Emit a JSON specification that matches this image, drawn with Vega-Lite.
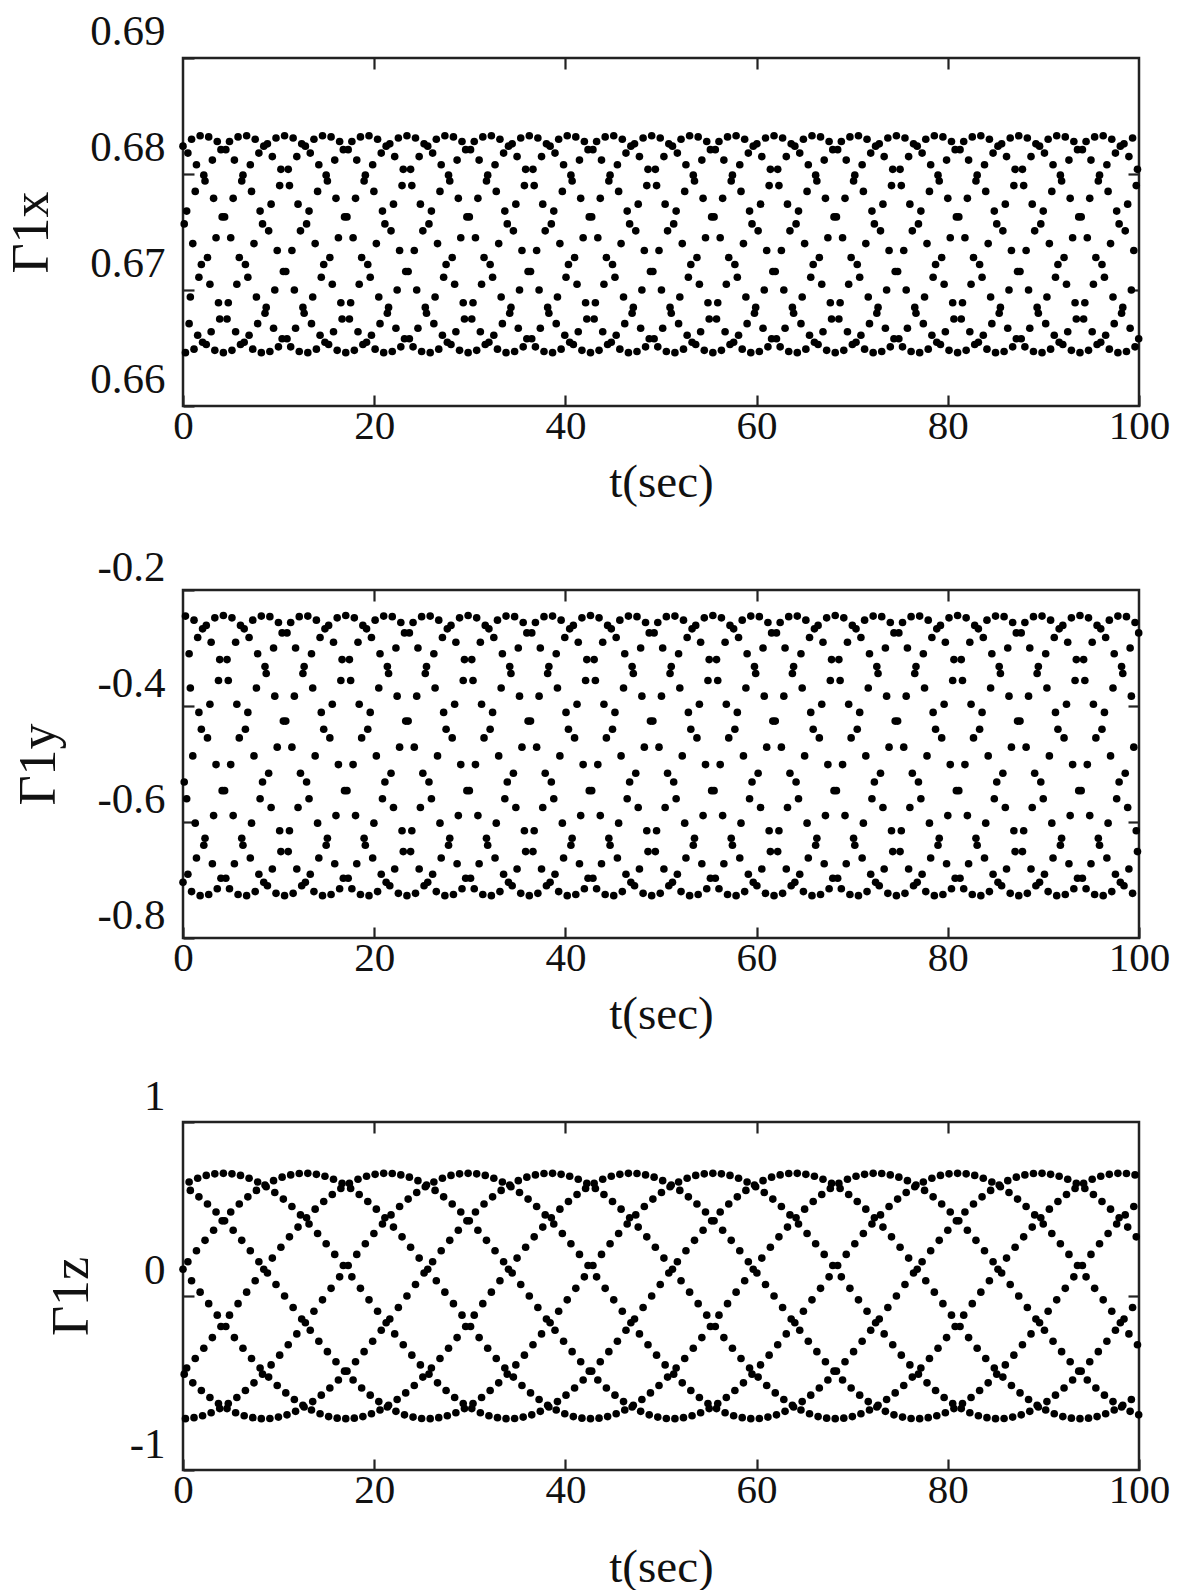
{
"$schema":"https://vega.github.io/schema/vega-lite/v6.json",
"background":"white",
"padding":{"left":4,"top":8,"right":0,"bottom":0},
"spacing":184,
"bounds":"flush",
"data":{"values":[
{"t":0,"x":0.6824,"y":-0.704,"z":0.154},{"t":0.128,"x":0.6757,"y":-0.531,"z":-0.449},{"t":0.256,"x":0.6646,"y":-0.245,"z":-0.705},{"t":0.384,"x":0.6768,"y":-0.560,"z":-0.414},{"t":0.512,"x":0.6818,"y":-0.690,"z":0.197},{"t":0.64,"x":0.6671,"y":-0.310,"z":0.655},{"t":0.768,"x":0.6694,"y":-0.369,"z":0.607},
{"t":0.896,"x":0.6830,"y":-0.720,"z":0.088},{"t":1.024,"x":0.6740,"y":-0.486,"z":-0.499},{"t":1.152,"x":0.6649,"y":-0.252,"z":-0.699},{"t":1.28,"x":0.6785,"y":-0.602,"z":-0.359},{"t":1.408,"x":0.6808,"y":-0.662,"z":0.260},{"t":1.536,"x":0.6661,"y":-0.282,"z":0.677},{"t":1.664,"x":0.6711,"y":-0.411,"z":0.570},
{"t":1.792,"x":0.6833,"y":-0.727,"z":0.022},{"t":1.92,"x":0.6722,"y":-0.440,"z":-0.543},{"t":2.048,"x":0.6655,"y":-0.267,"z":-0.688},{"t":2.176,"x":0.6799,"y":-0.640,"z":-0.300},{"t":2.304,"x":0.6794,"y":-0.628,"z":0.320},{"t":2.432,"x":0.6653,"y":-0.261,"z":0.693},{"t":2.56,"x":0.6728,"y":-0.455,"z":0.529},
{"t":2.688,"x":0.6832,"y":-0.725,"z":-0.044},{"t":2.816,"x":0.6705,"y":-0.397,"z":-0.583},{"t":2.944,"x":0.6664,"y":-0.290,"z":-0.671},{"t":3.072,"x":0.6812,"y":-0.672,"z":-0.239},{"t":3.2,"x":0.6779,"y":-0.589,"z":0.378},{"t":3.328,"x":0.6648,"y":-0.248,"z":0.702},{"t":3.456,"x":0.6745,"y":-0.501,"z":0.483},
{"t":3.584,"x":0.6828,"y":-0.715,"z":-0.110},{"t":3.712,"x":0.6689,"y":-0.356,"z":-0.618},{"t":3.84,"x":0.6675,"y":-0.320,"z":-0.647},{"t":3.968,"x":0.6821,"y":-0.697,"z":-0.175},{"t":4.096,"x":0.6763,"y":-0.546,"z":0.432},{"t":4.224,"x":0.6646,"y":-0.244,"z":0.705},{"t":4.352,"x":0.6763,"y":-0.546,"z":0.432},
{"t":4.48,"x":0.6821,"y":-0.697,"z":-0.175},{"t":4.608,"x":0.6675,"y":-0.320,"z":-0.647},{"t":4.736,"x":0.6689,"y":-0.356,"z":-0.618},{"t":4.864,"x":0.6828,"y":-0.715,"z":-0.110},{"t":4.992,"x":0.6745,"y":-0.501,"z":0.483},{"t":5.12,"x":0.6648,"y":-0.248,"z":0.702},{"t":5.248,"x":0.6779,"y":-0.589,"z":0.378},
{"t":5.376,"x":0.6812,"y":-0.672,"z":-0.239},{"t":5.504,"x":0.6664,"y":-0.290,"z":-0.671},{"t":5.632,"x":0.6705,"y":-0.397,"z":-0.583},{"t":5.76,"x":0.6832,"y":-0.725,"z":-0.044},{"t":5.888,"x":0.6728,"y":-0.455,"z":0.529},{"t":6.016,"x":0.6653,"y":-0.261,"z":0.693},{"t":6.144,"x":0.6794,"y":-0.628,"z":0.320},
{"t":6.272,"x":0.6799,"y":-0.640,"z":-0.300},{"t":6.4,"x":0.6655,"y":-0.267,"z":-0.688},{"t":6.528,"x":0.6722,"y":-0.440,"z":-0.543},{"t":6.656,"x":0.6833,"y":-0.727,"z":0.022},{"t":6.784,"x":0.6711,"y":-0.411,"z":0.570},{"t":6.912,"x":0.6661,"y":-0.282,"z":0.677},{"t":7.04,"x":0.6808,"y":-0.662,"z":0.260},
{"t":7.168,"x":0.6785,"y":-0.602,"z":-0.359},{"t":7.296,"x":0.6649,"y":-0.252,"z":-0.699},{"t":7.424,"x":0.6740,"y":-0.486,"z":-0.499},{"t":7.552,"x":0.6830,"y":-0.720,"z":0.088},{"t":7.68,"x":0.6694,"y":-0.369,"z":0.607},{"t":7.808,"x":0.6671,"y":-0.310,"z":0.655},{"t":7.936,"x":0.6818,"y":-0.690,"z":0.197},
{"t":8.064,"x":0.6768,"y":-0.560,"z":-0.414},{"t":8.192,"x":0.6646,"y":-0.245,"z":-0.705},{"t":8.32,"x":0.6757,"y":-0.531,"z":-0.449},{"t":8.448,"x":0.6824,"y":-0.704,"z":0.154},{"t":8.576,"x":0.6680,"y":-0.332,"z":0.638},{"t":8.704,"x":0.6685,"y":-0.344,"z":0.628},{"t":8.832,"x":0.6826,"y":-0.710,"z":0.132},
{"t":8.96,"x":0.6751,"y":-0.516,"z":-0.466},{"t":9.088,"x":0.6647,"y":-0.246,"z":-0.704},{"t":9.216,"x":0.6774,"y":-0.575,"z":-0.396},{"t":9.344,"x":0.6815,"y":-0.681,"z":0.218},{"t":9.472,"x":0.6667,"y":-0.300,"z":0.663},{"t":9.6,"x":0.6700,"y":-0.383,"z":0.595},{"t":9.728,"x":0.6831,"y":-0.723,"z":0.066},
{"t":9.856,"x":0.6734,"y":-0.471,"z":-0.514},{"t":9.984,"x":0.6651,"y":-0.256,"z":-0.696},{"t":10.112,"x":0.6790,"y":-0.615,"z":-0.340},{"t":10.24,"x":0.6804,"y":-0.651,"z":0.280},{"t":10.368,"x":0.6658,"y":-0.274,"z":0.683},{"t":10.496,"x":0.6716,"y":-0.426,"z":0.557},{"t":10.624,"x":0.6833,"y":-0.727,"z":0},
{"t":10.752,"x":0.6716,"y":-0.426,"z":-0.557},{"t":10.88,"x":0.6658,"y":-0.274,"z":-0.683},{"t":11.008,"x":0.6804,"y":-0.651,"z":-0.280},{"t":11.136,"x":0.6790,"y":-0.615,"z":0.340},{"t":11.264,"x":0.6651,"y":-0.256,"z":0.696},{"t":11.392,"x":0.6734,"y":-0.471,"z":0.514},{"t":11.52,"x":0.6831,"y":-0.723,"z":-0.066},
{"t":11.648,"x":0.6700,"y":-0.383,"z":-0.595},{"t":11.776,"x":0.6667,"y":-0.300,"z":-0.663},{"t":11.904,"x":0.6815,"y":-0.681,"z":-0.218},{"t":12.032,"x":0.6774,"y":-0.575,"z":0.396},{"t":12.16,"x":0.6647,"y":-0.246,"z":0.704},{"t":12.288,"x":0.6751,"y":-0.516,"z":0.466},{"t":12.416,"x":0.6826,"y":-0.710,"z":-0.132},
{"t":12.544,"x":0.6685,"y":-0.344,"z":-0.628},{"t":12.672,"x":0.6680,"y":-0.332,"z":-0.638},{"t":12.8,"x":0.6824,"y":-0.704,"z":-0.154},{"t":12.928,"x":0.6757,"y":-0.531,"z":0.449},{"t":13.056,"x":0.6646,"y":-0.245,"z":0.705},{"t":13.184,"x":0.6768,"y":-0.560,"z":0.414},{"t":13.312,"x":0.6818,"y":-0.690,"z":-0.197},
{"t":13.44,"x":0.6671,"y":-0.310,"z":-0.655},{"t":13.568,"x":0.6694,"y":-0.369,"z":-0.607},{"t":13.696,"x":0.6830,"y":-0.720,"z":-0.088},{"t":13.824,"x":0.6740,"y":-0.486,"z":0.499},{"t":13.952,"x":0.6649,"y":-0.252,"z":0.699},{"t":14.08,"x":0.6785,"y":-0.602,"z":0.359},{"t":14.208,"x":0.6808,"y":-0.662,"z":-0.260},
{"t":14.336,"x":0.6661,"y":-0.282,"z":-0.677},{"t":14.464,"x":0.6711,"y":-0.411,"z":-0.570},{"t":14.592,"x":0.6833,"y":-0.727,"z":-0.022},{"t":14.72,"x":0.6722,"y":-0.440,"z":0.543},{"t":14.848,"x":0.6655,"y":-0.267,"z":0.688},{"t":14.976,"x":0.6799,"y":-0.640,"z":0.300},{"t":15.104,"x":0.6794,"y":-0.628,"z":-0.320},
{"t":15.232,"x":0.6653,"y":-0.261,"z":-0.693},{"t":15.36,"x":0.6728,"y":-0.455,"z":-0.529},{"t":15.488,"x":0.6832,"y":-0.725,"z":0.044},{"t":15.616,"x":0.6705,"y":-0.397,"z":0.583},{"t":15.744,"x":0.6664,"y":-0.290,"z":0.671},{"t":15.872,"x":0.6812,"y":-0.672,"z":0.239},{"t":16,"x":0.6779,"y":-0.589,"z":-0.378},
{"t":16.128,"x":0.6648,"y":-0.248,"z":-0.702},{"t":16.256,"x":0.6745,"y":-0.501,"z":-0.483},{"t":16.384,"x":0.6828,"y":-0.715,"z":0.110},{"t":16.512,"x":0.6689,"y":-0.356,"z":0.618},{"t":16.64,"x":0.6675,"y":-0.320,"z":0.647},{"t":16.768,"x":0.6821,"y":-0.697,"z":0.175},{"t":16.896,"x":0.6763,"y":-0.546,"z":-0.432},
{"t":17.024,"x":0.6646,"y":-0.244,"z":-0.705},{"t":17.152,"x":0.6763,"y":-0.546,"z":-0.432},{"t":17.28,"x":0.6821,"y":-0.697,"z":0.175},{"t":17.408,"x":0.6675,"y":-0.320,"z":0.647},{"t":17.536,"x":0.6689,"y":-0.356,"z":0.618},{"t":17.664,"x":0.6828,"y":-0.715,"z":0.110},{"t":17.792,"x":0.6745,"y":-0.501,"z":-0.483},
{"t":17.92,"x":0.6648,"y":-0.248,"z":-0.702},{"t":18.048,"x":0.6779,"y":-0.589,"z":-0.378},{"t":18.176,"x":0.6812,"y":-0.672,"z":0.239},{"t":18.304,"x":0.6664,"y":-0.290,"z":0.671},{"t":18.432,"x":0.6705,"y":-0.397,"z":0.583},{"t":18.56,"x":0.6832,"y":-0.725,"z":0.044},{"t":18.688,"x":0.6728,"y":-0.455,"z":-0.529},
{"t":18.816,"x":0.6653,"y":-0.261,"z":-0.693},{"t":18.944,"x":0.6794,"y":-0.628,"z":-0.320},{"t":19.072,"x":0.6799,"y":-0.640,"z":0.300},{"t":19.2,"x":0.6655,"y":-0.267,"z":0.688},{"t":19.328,"x":0.6722,"y":-0.440,"z":0.543},{"t":19.456,"x":0.6833,"y":-0.727,"z":-0.022},{"t":19.584,"x":0.6711,"y":-0.411,"z":-0.570},
{"t":19.712,"x":0.6661,"y":-0.282,"z":-0.677},{"t":19.84,"x":0.6808,"y":-0.662,"z":-0.260},{"t":19.968,"x":0.6785,"y":-0.602,"z":0.359},{"t":20.096,"x":0.6649,"y":-0.252,"z":0.699},{"t":20.224,"x":0.6740,"y":-0.486,"z":0.499},{"t":20.352,"x":0.6830,"y":-0.720,"z":-0.088},{"t":20.48,"x":0.6694,"y":-0.369,"z":-0.607},
{"t":20.608,"x":0.6671,"y":-0.310,"z":-0.655},{"t":20.736,"x":0.6818,"y":-0.690,"z":-0.197},{"t":20.864,"x":0.6768,"y":-0.560,"z":0.414},{"t":20.992,"x":0.6646,"y":-0.245,"z":0.705},{"t":21.12,"x":0.6757,"y":-0.531,"z":0.449},{"t":21.248,"x":0.6824,"y":-0.704,"z":-0.154},{"t":21.376,"x":0.6680,"y":-0.332,"z":-0.638},
{"t":21.504,"x":0.6685,"y":-0.344,"z":-0.628},{"t":21.632,"x":0.6826,"y":-0.710,"z":-0.132},{"t":21.76,"x":0.6751,"y":-0.516,"z":0.466},{"t":21.888,"x":0.6647,"y":-0.246,"z":0.704},{"t":22.016,"x":0.6774,"y":-0.575,"z":0.396},{"t":22.144,"x":0.6815,"y":-0.681,"z":-0.218},{"t":22.272,"x":0.6667,"y":-0.300,"z":-0.663},
{"t":22.4,"x":0.6700,"y":-0.383,"z":-0.595},{"t":22.528,"x":0.6831,"y":-0.723,"z":-0.066},{"t":22.656,"x":0.6734,"y":-0.471,"z":0.514},{"t":22.784,"x":0.6651,"y":-0.256,"z":0.696},{"t":22.912,"x":0.6790,"y":-0.615,"z":0.340},{"t":23.04,"x":0.6804,"y":-0.651,"z":-0.280},{"t":23.168,"x":0.6658,"y":-0.274,"z":-0.683},
{"t":23.296,"x":0.6716,"y":-0.426,"z":-0.557},{"t":23.424,"x":0.6833,"y":-0.727,"z":0},{"t":23.552,"x":0.6716,"y":-0.426,"z":0.557},{"t":23.68,"x":0.6658,"y":-0.274,"z":0.683},{"t":23.808,"x":0.6804,"y":-0.651,"z":0.280},{"t":23.936,"x":0.6790,"y":-0.615,"z":-0.340},{"t":24.064,"x":0.6651,"y":-0.256,"z":-0.696},
{"t":24.192,"x":0.6734,"y":-0.471,"z":-0.514},{"t":24.32,"x":0.6831,"y":-0.723,"z":0.066},{"t":24.448,"x":0.6700,"y":-0.383,"z":0.595},{"t":24.576,"x":0.6667,"y":-0.300,"z":0.663},{"t":24.704,"x":0.6815,"y":-0.681,"z":0.218},{"t":24.832,"x":0.6774,"y":-0.575,"z":-0.396},{"t":24.96,"x":0.6647,"y":-0.246,"z":-0.704},
{"t":25.088,"x":0.6751,"y":-0.516,"z":-0.466},{"t":25.216,"x":0.6826,"y":-0.710,"z":0.132},{"t":25.344,"x":0.6685,"y":-0.344,"z":0.628},{"t":25.472,"x":0.6680,"y":-0.332,"z":0.638},
{"t":25.6,"x":0.6824,"y":-0.704,"z":0.154},{"t":25.728,"x":0.6757,"y":-0.531,"z":-0.449},{"t":25.856,"x":0.6646,"y":-0.245,"z":-0.705},{"t":25.984,"x":0.6768,"y":-0.560,"z":-0.414},{"t":26.112,"x":0.6818,"y":-0.690,"z":0.197},{"t":26.24,"x":0.6671,"y":-0.310,"z":0.655},{"t":26.368,"x":0.6694,"y":-0.369,"z":0.607},
{"t":26.496,"x":0.6830,"y":-0.720,"z":0.088},{"t":26.624,"x":0.6740,"y":-0.486,"z":-0.499},{"t":26.752,"x":0.6649,"y":-0.252,"z":-0.699},{"t":26.88,"x":0.6785,"y":-0.602,"z":-0.359},{"t":27.008,"x":0.6808,"y":-0.662,"z":0.260},{"t":27.136,"x":0.6661,"y":-0.282,"z":0.677},{"t":27.264,"x":0.6711,"y":-0.411,"z":0.570},
{"t":27.392,"x":0.6833,"y":-0.727,"z":0.022},{"t":27.52,"x":0.6722,"y":-0.440,"z":-0.543},{"t":27.648,"x":0.6655,"y":-0.267,"z":-0.688},{"t":27.776,"x":0.6799,"y":-0.640,"z":-0.300},{"t":27.904,"x":0.6794,"y":-0.628,"z":0.320},{"t":28.032,"x":0.6653,"y":-0.261,"z":0.693},{"t":28.16,"x":0.6728,"y":-0.455,"z":0.529},
{"t":28.288,"x":0.6832,"y":-0.725,"z":-0.044},{"t":28.416,"x":0.6705,"y":-0.397,"z":-0.583},{"t":28.544,"x":0.6664,"y":-0.290,"z":-0.671},{"t":28.672,"x":0.6812,"y":-0.672,"z":-0.239},{"t":28.8,"x":0.6779,"y":-0.589,"z":0.378},{"t":28.928,"x":0.6648,"y":-0.248,"z":0.702},{"t":29.056,"x":0.6745,"y":-0.501,"z":0.483},
{"t":29.184,"x":0.6828,"y":-0.715,"z":-0.110},{"t":29.312,"x":0.6689,"y":-0.356,"z":-0.618},{"t":29.44,"x":0.6675,"y":-0.320,"z":-0.647},{"t":29.568,"x":0.6821,"y":-0.697,"z":-0.175},{"t":29.696,"x":0.6763,"y":-0.546,"z":0.432},{"t":29.824,"x":0.6646,"y":-0.244,"z":0.705},{"t":29.952,"x":0.6763,"y":-0.546,"z":0.432},
{"t":30.08,"x":0.6821,"y":-0.697,"z":-0.175},{"t":30.208,"x":0.6675,"y":-0.320,"z":-0.647},{"t":30.336,"x":0.6689,"y":-0.356,"z":-0.618},{"t":30.464,"x":0.6828,"y":-0.715,"z":-0.110},{"t":30.592,"x":0.6745,"y":-0.501,"z":0.483},{"t":30.72,"x":0.6648,"y":-0.248,"z":0.702},{"t":30.848,"x":0.6779,"y":-0.589,"z":0.378},
{"t":30.976,"x":0.6812,"y":-0.672,"z":-0.239},{"t":31.104,"x":0.6664,"y":-0.290,"z":-0.671},{"t":31.232,"x":0.6705,"y":-0.397,"z":-0.583},{"t":31.36,"x":0.6832,"y":-0.725,"z":-0.044},{"t":31.488,"x":0.6728,"y":-0.455,"z":0.529},{"t":31.616,"x":0.6653,"y":-0.261,"z":0.693},{"t":31.744,"x":0.6794,"y":-0.628,"z":0.320},
{"t":31.872,"x":0.6799,"y":-0.640,"z":-0.300},{"t":32,"x":0.6655,"y":-0.267,"z":-0.688},{"t":32.128,"x":0.6722,"y":-0.440,"z":-0.543},{"t":32.256,"x":0.6833,"y":-0.727,"z":0.022},{"t":32.384,"x":0.6711,"y":-0.411,"z":0.570},{"t":32.512,"x":0.6661,"y":-0.282,"z":0.677},{"t":32.64,"x":0.6808,"y":-0.662,"z":0.260},
{"t":32.768,"x":0.6785,"y":-0.602,"z":-0.359},{"t":32.896,"x":0.6649,"y":-0.252,"z":-0.699},{"t":33.024,"x":0.6740,"y":-0.486,"z":-0.499},{"t":33.152,"x":0.6830,"y":-0.720,"z":0.088},{"t":33.28,"x":0.6694,"y":-0.369,"z":0.607},{"t":33.408,"x":0.6671,"y":-0.310,"z":0.655},{"t":33.536,"x":0.6818,"y":-0.690,"z":0.197},
{"t":33.664,"x":0.6768,"y":-0.560,"z":-0.414},{"t":33.792,"x":0.6646,"y":-0.245,"z":-0.705},{"t":33.92,"x":0.6757,"y":-0.531,"z":-0.449},{"t":34.048,"x":0.6824,"y":-0.704,"z":0.154},{"t":34.176,"x":0.6680,"y":-0.332,"z":0.638},{"t":34.304,"x":0.6685,"y":-0.344,"z":0.628},{"t":34.432,"x":0.6826,"y":-0.710,"z":0.132},
{"t":34.56,"x":0.6751,"y":-0.516,"z":-0.466},{"t":34.688,"x":0.6647,"y":-0.246,"z":-0.704},{"t":34.816,"x":0.6774,"y":-0.575,"z":-0.396},{"t":34.944,"x":0.6815,"y":-0.681,"z":0.218},{"t":35.072,"x":0.6667,"y":-0.300,"z":0.663},{"t":35.2,"x":0.6700,"y":-0.383,"z":0.595},{"t":35.328,"x":0.6831,"y":-0.723,"z":0.066},
{"t":35.456,"x":0.6734,"y":-0.471,"z":-0.514},{"t":35.584,"x":0.6651,"y":-0.256,"z":-0.696},{"t":35.712,"x":0.6790,"y":-0.615,"z":-0.340},{"t":35.84,"x":0.6804,"y":-0.651,"z":0.280},{"t":35.968,"x":0.6658,"y":-0.274,"z":0.683},{"t":36.096,"x":0.6716,"y":-0.426,"z":0.557},{"t":36.224,"x":0.6833,"y":-0.727,"z":0},
{"t":36.352,"x":0.6716,"y":-0.426,"z":-0.557},{"t":36.48,"x":0.6658,"y":-0.274,"z":-0.683},{"t":36.608,"x":0.6804,"y":-0.651,"z":-0.280},{"t":36.736,"x":0.6790,"y":-0.615,"z":0.340},{"t":36.864,"x":0.6651,"y":-0.256,"z":0.696},{"t":36.992,"x":0.6734,"y":-0.471,"z":0.514},{"t":37.12,"x":0.6831,"y":-0.723,"z":-0.066},
{"t":37.248,"x":0.6700,"y":-0.383,"z":-0.595},{"t":37.376,"x":0.6667,"y":-0.300,"z":-0.663},{"t":37.504,"x":0.6815,"y":-0.681,"z":-0.218},{"t":37.632,"x":0.6774,"y":-0.575,"z":0.396},{"t":37.76,"x":0.6647,"y":-0.246,"z":0.704},{"t":37.888,"x":0.6751,"y":-0.516,"z":0.466},{"t":38.016,"x":0.6826,"y":-0.710,"z":-0.132},
{"t":38.144,"x":0.6685,"y":-0.344,"z":-0.628},{"t":38.272,"x":0.6680,"y":-0.332,"z":-0.638},{"t":38.4,"x":0.6824,"y":-0.704,"z":-0.154},{"t":38.528,"x":0.6757,"y":-0.531,"z":0.449},{"t":38.656,"x":0.6646,"y":-0.245,"z":0.705},{"t":38.784,"x":0.6768,"y":-0.560,"z":0.414},{"t":38.912,"x":0.6818,"y":-0.690,"z":-0.197},
{"t":39.04,"x":0.6671,"y":-0.310,"z":-0.655},{"t":39.168,"x":0.6694,"y":-0.369,"z":-0.607},{"t":39.296,"x":0.6830,"y":-0.720,"z":-0.088},{"t":39.424,"x":0.6740,"y":-0.486,"z":0.499},{"t":39.552,"x":0.6649,"y":-0.252,"z":0.699},{"t":39.68,"x":0.6785,"y":-0.602,"z":0.359},{"t":39.808,"x":0.6808,"y":-0.662,"z":-0.260},
{"t":39.936,"x":0.6661,"y":-0.282,"z":-0.677},{"t":40.064,"x":0.6711,"y":-0.411,"z":-0.570},{"t":40.192,"x":0.6833,"y":-0.727,"z":-0.022},{"t":40.32,"x":0.6722,"y":-0.440,"z":0.543},{"t":40.448,"x":0.6655,"y":-0.267,"z":0.688},{"t":40.576,"x":0.6799,"y":-0.640,"z":0.300},{"t":40.704,"x":0.6794,"y":-0.628,"z":-0.320},
{"t":40.832,"x":0.6653,"y":-0.261,"z":-0.693},{"t":40.96,"x":0.6728,"y":-0.455,"z":-0.529},{"t":41.088,"x":0.6832,"y":-0.725,"z":0.044},{"t":41.216,"x":0.6705,"y":-0.397,"z":0.583},{"t":41.344,"x":0.6664,"y":-0.290,"z":0.671},{"t":41.472,"x":0.6812,"y":-0.672,"z":0.239},{"t":41.6,"x":0.6779,"y":-0.589,"z":-0.378},
{"t":41.728,"x":0.6648,"y":-0.248,"z":-0.702},{"t":41.856,"x":0.6745,"y":-0.501,"z":-0.483},{"t":41.984,"x":0.6828,"y":-0.715,"z":0.110},{"t":42.112,"x":0.6689,"y":-0.356,"z":0.618},{"t":42.24,"x":0.6675,"y":-0.320,"z":0.647},{"t":42.368,"x":0.6821,"y":-0.697,"z":0.175},{"t":42.496,"x":0.6763,"y":-0.546,"z":-0.432},
{"t":42.624,"x":0.6646,"y":-0.244,"z":-0.705},{"t":42.752,"x":0.6763,"y":-0.546,"z":-0.432},{"t":42.88,"x":0.6821,"y":-0.697,"z":0.175},{"t":43.008,"x":0.6675,"y":-0.320,"z":0.647},{"t":43.136,"x":0.6689,"y":-0.356,"z":0.618},{"t":43.264,"x":0.6828,"y":-0.715,"z":0.110},{"t":43.392,"x":0.6745,"y":-0.501,"z":-0.483},
{"t":43.52,"x":0.6648,"y":-0.248,"z":-0.702},{"t":43.648,"x":0.6779,"y":-0.589,"z":-0.378},{"t":43.776,"x":0.6812,"y":-0.672,"z":0.239},{"t":43.904,"x":0.6664,"y":-0.290,"z":0.671},{"t":44.032,"x":0.6705,"y":-0.397,"z":0.583},{"t":44.16,"x":0.6832,"y":-0.725,"z":0.044},{"t":44.288,"x":0.6728,"y":-0.455,"z":-0.529},
{"t":44.416,"x":0.6653,"y":-0.261,"z":-0.693},{"t":44.544,"x":0.6794,"y":-0.628,"z":-0.320},{"t":44.672,"x":0.6799,"y":-0.640,"z":0.300},{"t":44.8,"x":0.6655,"y":-0.267,"z":0.688},{"t":44.928,"x":0.6722,"y":-0.440,"z":0.543},{"t":45.056,"x":0.6833,"y":-0.727,"z":-0.022},{"t":45.184,"x":0.6711,"y":-0.411,"z":-0.570},
{"t":45.312,"x":0.6661,"y":-0.282,"z":-0.677},{"t":45.44,"x":0.6808,"y":-0.662,"z":-0.260},{"t":45.568,"x":0.6785,"y":-0.602,"z":0.359},{"t":45.696,"x":0.6649,"y":-0.252,"z":0.699},{"t":45.824,"x":0.6740,"y":-0.486,"z":0.499},{"t":45.952,"x":0.6830,"y":-0.720,"z":-0.088},{"t":46.08,"x":0.6694,"y":-0.369,"z":-0.607},
{"t":46.208,"x":0.6671,"y":-0.310,"z":-0.655},{"t":46.336,"x":0.6818,"y":-0.690,"z":-0.197},{"t":46.464,"x":0.6768,"y":-0.560,"z":0.414},{"t":46.592,"x":0.6646,"y":-0.245,"z":0.705},{"t":46.72,"x":0.6757,"y":-0.531,"z":0.449},{"t":46.848,"x":0.6824,"y":-0.704,"z":-0.154},{"t":46.976,"x":0.6680,"y":-0.332,"z":-0.638},
{"t":47.104,"x":0.6685,"y":-0.344,"z":-0.628},{"t":47.232,"x":0.6826,"y":-0.710,"z":-0.132},{"t":47.36,"x":0.6751,"y":-0.516,"z":0.466},{"t":47.488,"x":0.6647,"y":-0.246,"z":0.704},{"t":47.616,"x":0.6774,"y":-0.575,"z":0.396},{"t":47.744,"x":0.6815,"y":-0.681,"z":-0.218},{"t":47.872,"x":0.6667,"y":-0.300,"z":-0.663},
{"t":48,"x":0.6700,"y":-0.383,"z":-0.595},{"t":48.128,"x":0.6831,"y":-0.723,"z":-0.066},{"t":48.256,"x":0.6734,"y":-0.471,"z":0.514},{"t":48.384,"x":0.6651,"y":-0.256,"z":0.696},{"t":48.512,"x":0.6790,"y":-0.615,"z":0.340},{"t":48.64,"x":0.6804,"y":-0.651,"z":-0.280},{"t":48.768,"x":0.6658,"y":-0.274,"z":-0.683},
{"t":48.896,"x":0.6716,"y":-0.426,"z":-0.557},{"t":49.024,"x":0.6833,"y":-0.727,"z":0},{"t":49.152,"x":0.6716,"y":-0.426,"z":0.557},{"t":49.28,"x":0.6658,"y":-0.274,"z":0.683},{"t":49.408,"x":0.6804,"y":-0.651,"z":0.280},{"t":49.536,"x":0.6790,"y":-0.615,"z":-0.340},{"t":49.664,"x":0.6651,"y":-0.256,"z":-0.696},
{"t":49.792,"x":0.6734,"y":-0.471,"z":-0.514},{"t":49.92,"x":0.6831,"y":-0.723,"z":0.066},{"t":50.048,"x":0.6700,"y":-0.383,"z":0.595},{"t":50.176,"x":0.6667,"y":-0.300,"z":0.663},{"t":50.304,"x":0.6815,"y":-0.681,"z":0.218},{"t":50.432,"x":0.6774,"y":-0.575,"z":-0.396},{"t":50.56,"x":0.6647,"y":-0.246,"z":-0.704},
{"t":50.688,"x":0.6751,"y":-0.516,"z":-0.466},{"t":50.816,"x":0.6826,"y":-0.710,"z":0.132},{"t":50.944,"x":0.6685,"y":-0.344,"z":0.628},{"t":51.072,"x":0.6680,"y":-0.332,"z":0.638},
{"t":51.2,"x":0.6824,"y":-0.704,"z":0.154},{"t":51.328,"x":0.6757,"y":-0.531,"z":-0.449},{"t":51.456,"x":0.6646,"y":-0.245,"z":-0.705},{"t":51.584,"x":0.6768,"y":-0.560,"z":-0.414},{"t":51.712,"x":0.6818,"y":-0.690,"z":0.197},{"t":51.84,"x":0.6671,"y":-0.310,"z":0.655},{"t":51.968,"x":0.6694,"y":-0.369,"z":0.607},
{"t":52.096,"x":0.6830,"y":-0.720,"z":0.088},{"t":52.224,"x":0.6740,"y":-0.486,"z":-0.499},{"t":52.352,"x":0.6649,"y":-0.252,"z":-0.699},{"t":52.48,"x":0.6785,"y":-0.602,"z":-0.359},{"t":52.608,"x":0.6808,"y":-0.662,"z":0.260},{"t":52.736,"x":0.6661,"y":-0.282,"z":0.677},{"t":52.864,"x":0.6711,"y":-0.411,"z":0.570},
{"t":52.992,"x":0.6833,"y":-0.727,"z":0.022},{"t":53.12,"x":0.6722,"y":-0.440,"z":-0.543},{"t":53.248,"x":0.6655,"y":-0.267,"z":-0.688},{"t":53.376,"x":0.6799,"y":-0.640,"z":-0.300},{"t":53.504,"x":0.6794,"y":-0.628,"z":0.320},{"t":53.632,"x":0.6653,"y":-0.261,"z":0.693},{"t":53.76,"x":0.6728,"y":-0.455,"z":0.529},
{"t":53.888,"x":0.6832,"y":-0.725,"z":-0.044},{"t":54.016,"x":0.6705,"y":-0.397,"z":-0.583},{"t":54.144,"x":0.6664,"y":-0.290,"z":-0.671},{"t":54.272,"x":0.6812,"y":-0.672,"z":-0.239},{"t":54.4,"x":0.6779,"y":-0.589,"z":0.378},{"t":54.528,"x":0.6648,"y":-0.248,"z":0.702},{"t":54.656,"x":0.6745,"y":-0.501,"z":0.483},
{"t":54.784,"x":0.6828,"y":-0.715,"z":-0.110},{"t":54.912,"x":0.6689,"y":-0.356,"z":-0.618},{"t":55.04,"x":0.6675,"y":-0.320,"z":-0.647},{"t":55.168,"x":0.6821,"y":-0.697,"z":-0.175},{"t":55.296,"x":0.6763,"y":-0.546,"z":0.432},{"t":55.424,"x":0.6646,"y":-0.244,"z":0.705},{"t":55.552,"x":0.6763,"y":-0.546,"z":0.432},
{"t":55.68,"x":0.6821,"y":-0.697,"z":-0.175},{"t":55.808,"x":0.6675,"y":-0.320,"z":-0.647},{"t":55.936,"x":0.6689,"y":-0.356,"z":-0.618},{"t":56.064,"x":0.6828,"y":-0.715,"z":-0.110},{"t":56.192,"x":0.6745,"y":-0.501,"z":0.483},{"t":56.32,"x":0.6648,"y":-0.248,"z":0.702},{"t":56.448,"x":0.6779,"y":-0.589,"z":0.378},
{"t":56.576,"x":0.6812,"y":-0.672,"z":-0.239},{"t":56.704,"x":0.6664,"y":-0.290,"z":-0.671},{"t":56.832,"x":0.6705,"y":-0.397,"z":-0.583},{"t":56.96,"x":0.6832,"y":-0.725,"z":-0.044},{"t":57.088,"x":0.6728,"y":-0.455,"z":0.529},{"t":57.216,"x":0.6653,"y":-0.261,"z":0.693},{"t":57.344,"x":0.6794,"y":-0.628,"z":0.320},
{"t":57.472,"x":0.6799,"y":-0.640,"z":-0.300},{"t":57.6,"x":0.6655,"y":-0.267,"z":-0.688},{"t":57.728,"x":0.6722,"y":-0.440,"z":-0.543},{"t":57.856,"x":0.6833,"y":-0.727,"z":0.022},{"t":57.984,"x":0.6711,"y":-0.411,"z":0.570},{"t":58.112,"x":0.6661,"y":-0.282,"z":0.677},{"t":58.24,"x":0.6808,"y":-0.662,"z":0.260},
{"t":58.368,"x":0.6785,"y":-0.602,"z":-0.359},{"t":58.496,"x":0.6649,"y":-0.252,"z":-0.699},{"t":58.624,"x":0.6740,"y":-0.486,"z":-0.499},{"t":58.752,"x":0.6830,"y":-0.720,"z":0.088},{"t":58.88,"x":0.6694,"y":-0.369,"z":0.607},{"t":59.008,"x":0.6671,"y":-0.310,"z":0.655},{"t":59.136,"x":0.6818,"y":-0.690,"z":0.197},
{"t":59.264,"x":0.6768,"y":-0.560,"z":-0.414},{"t":59.392,"x":0.6646,"y":-0.245,"z":-0.705},{"t":59.52,"x":0.6757,"y":-0.531,"z":-0.449},{"t":59.648,"x":0.6824,"y":-0.704,"z":0.154},{"t":59.776,"x":0.6680,"y":-0.332,"z":0.638},{"t":59.904,"x":0.6685,"y":-0.344,"z":0.628},{"t":60.032,"x":0.6826,"y":-0.710,"z":0.132},
{"t":60.16,"x":0.6751,"y":-0.516,"z":-0.466},{"t":60.288,"x":0.6647,"y":-0.246,"z":-0.704},{"t":60.416,"x":0.6774,"y":-0.575,"z":-0.396},{"t":60.544,"x":0.6815,"y":-0.681,"z":0.218},{"t":60.672,"x":0.6667,"y":-0.300,"z":0.663},{"t":60.8,"x":0.6700,"y":-0.383,"z":0.595},{"t":60.928,"x":0.6831,"y":-0.723,"z":0.066},
{"t":61.056,"x":0.6734,"y":-0.471,"z":-0.514},{"t":61.184,"x":0.6651,"y":-0.256,"z":-0.696},{"t":61.312,"x":0.6790,"y":-0.615,"z":-0.340},{"t":61.44,"x":0.6804,"y":-0.651,"z":0.280},{"t":61.568,"x":0.6658,"y":-0.274,"z":0.683},{"t":61.696,"x":0.6716,"y":-0.426,"z":0.557},{"t":61.824,"x":0.6833,"y":-0.727,"z":0},
{"t":61.952,"x":0.6716,"y":-0.426,"z":-0.557},{"t":62.08,"x":0.6658,"y":-0.274,"z":-0.683},{"t":62.208,"x":0.6804,"y":-0.651,"z":-0.280},{"t":62.336,"x":0.6790,"y":-0.615,"z":0.340},{"t":62.464,"x":0.6651,"y":-0.256,"z":0.696},{"t":62.592,"x":0.6734,"y":-0.471,"z":0.514},{"t":62.72,"x":0.6831,"y":-0.723,"z":-0.066},
{"t":62.848,"x":0.6700,"y":-0.383,"z":-0.595},{"t":62.976,"x":0.6667,"y":-0.300,"z":-0.663},{"t":63.104,"x":0.6815,"y":-0.681,"z":-0.218},{"t":63.232,"x":0.6774,"y":-0.575,"z":0.396},{"t":63.36,"x":0.6647,"y":-0.246,"z":0.704},{"t":63.488,"x":0.6751,"y":-0.516,"z":0.466},{"t":63.616,"x":0.6826,"y":-0.710,"z":-0.132},
{"t":63.744,"x":0.6685,"y":-0.344,"z":-0.628},{"t":63.872,"x":0.6680,"y":-0.332,"z":-0.638},{"t":64,"x":0.6824,"y":-0.704,"z":-0.154},{"t":64.128,"x":0.6757,"y":-0.531,"z":0.449},{"t":64.256,"x":0.6646,"y":-0.245,"z":0.705},{"t":64.384,"x":0.6768,"y":-0.560,"z":0.414},{"t":64.512,"x":0.6818,"y":-0.690,"z":-0.197},
{"t":64.64,"x":0.6671,"y":-0.310,"z":-0.655},{"t":64.768,"x":0.6694,"y":-0.369,"z":-0.607},{"t":64.896,"x":0.6830,"y":-0.720,"z":-0.088},{"t":65.024,"x":0.6740,"y":-0.486,"z":0.499},{"t":65.152,"x":0.6649,"y":-0.252,"z":0.699},{"t":65.28,"x":0.6785,"y":-0.602,"z":0.359},{"t":65.408,"x":0.6808,"y":-0.662,"z":-0.260},
{"t":65.536,"x":0.6661,"y":-0.282,"z":-0.677},{"t":65.664,"x":0.6711,"y":-0.411,"z":-0.570},{"t":65.792,"x":0.6833,"y":-0.727,"z":-0.022},{"t":65.92,"x":0.6722,"y":-0.440,"z":0.543},{"t":66.048,"x":0.6655,"y":-0.267,"z":0.688},{"t":66.176,"x":0.6799,"y":-0.640,"z":0.300},{"t":66.304,"x":0.6794,"y":-0.628,"z":-0.320},
{"t":66.432,"x":0.6653,"y":-0.261,"z":-0.693},{"t":66.56,"x":0.6728,"y":-0.455,"z":-0.529},{"t":66.688,"x":0.6832,"y":-0.725,"z":0.044},{"t":66.816,"x":0.6705,"y":-0.397,"z":0.583},{"t":66.944,"x":0.6664,"y":-0.290,"z":0.671},{"t":67.072,"x":0.6812,"y":-0.672,"z":0.239},{"t":67.2,"x":0.6779,"y":-0.589,"z":-0.378},
{"t":67.328,"x":0.6648,"y":-0.248,"z":-0.702},{"t":67.456,"x":0.6745,"y":-0.501,"z":-0.483},{"t":67.584,"x":0.6828,"y":-0.715,"z":0.110},{"t":67.712,"x":0.6689,"y":-0.356,"z":0.618},{"t":67.84,"x":0.6675,"y":-0.320,"z":0.647},{"t":67.968,"x":0.6821,"y":-0.697,"z":0.175},{"t":68.096,"x":0.6763,"y":-0.546,"z":-0.432},
{"t":68.224,"x":0.6646,"y":-0.244,"z":-0.705},{"t":68.352,"x":0.6763,"y":-0.546,"z":-0.432},{"t":68.48,"x":0.6821,"y":-0.697,"z":0.175},{"t":68.608,"x":0.6675,"y":-0.320,"z":0.647},{"t":68.736,"x":0.6689,"y":-0.356,"z":0.618},{"t":68.864,"x":0.6828,"y":-0.715,"z":0.110},{"t":68.992,"x":0.6745,"y":-0.501,"z":-0.483},
{"t":69.12,"x":0.6648,"y":-0.248,"z":-0.702},{"t":69.248,"x":0.6779,"y":-0.589,"z":-0.378},{"t":69.376,"x":0.6812,"y":-0.672,"z":0.239},{"t":69.504,"x":0.6664,"y":-0.290,"z":0.671},{"t":69.632,"x":0.6705,"y":-0.397,"z":0.583},{"t":69.76,"x":0.6832,"y":-0.725,"z":0.044},{"t":69.888,"x":0.6728,"y":-0.455,"z":-0.529},
{"t":70.016,"x":0.6653,"y":-0.261,"z":-0.693},{"t":70.144,"x":0.6794,"y":-0.628,"z":-0.320},{"t":70.272,"x":0.6799,"y":-0.640,"z":0.300},{"t":70.4,"x":0.6655,"y":-0.267,"z":0.688},{"t":70.528,"x":0.6722,"y":-0.440,"z":0.543},{"t":70.656,"x":0.6833,"y":-0.727,"z":-0.022},{"t":70.784,"x":0.6711,"y":-0.411,"z":-0.570},
{"t":70.912,"x":0.6661,"y":-0.282,"z":-0.677},{"t":71.04,"x":0.6808,"y":-0.662,"z":-0.260},{"t":71.168,"x":0.6785,"y":-0.602,"z":0.359},{"t":71.296,"x":0.6649,"y":-0.252,"z":0.699},{"t":71.424,"x":0.6740,"y":-0.486,"z":0.499},{"t":71.552,"x":0.6830,"y":-0.720,"z":-0.088},{"t":71.68,"x":0.6694,"y":-0.369,"z":-0.607},
{"t":71.808,"x":0.6671,"y":-0.310,"z":-0.655},{"t":71.936,"x":0.6818,"y":-0.690,"z":-0.197},{"t":72.064,"x":0.6768,"y":-0.560,"z":0.414},{"t":72.192,"x":0.6646,"y":-0.245,"z":0.705},{"t":72.32,"x":0.6757,"y":-0.531,"z":0.449},{"t":72.448,"x":0.6824,"y":-0.704,"z":-0.154},{"t":72.576,"x":0.6680,"y":-0.332,"z":-0.638},
{"t":72.704,"x":0.6685,"y":-0.344,"z":-0.628},{"t":72.832,"x":0.6826,"y":-0.710,"z":-0.132},{"t":72.96,"x":0.6751,"y":-0.516,"z":0.466},{"t":73.088,"x":0.6647,"y":-0.246,"z":0.704},{"t":73.216,"x":0.6774,"y":-0.575,"z":0.396},{"t":73.344,"x":0.6815,"y":-0.681,"z":-0.218},{"t":73.472,"x":0.6667,"y":-0.300,"z":-0.663},
{"t":73.6,"x":0.6700,"y":-0.383,"z":-0.595},{"t":73.728,"x":0.6831,"y":-0.723,"z":-0.066},{"t":73.856,"x":0.6734,"y":-0.471,"z":0.514},{"t":73.984,"x":0.6651,"y":-0.256,"z":0.696},{"t":74.112,"x":0.6790,"y":-0.615,"z":0.340},{"t":74.24,"x":0.6804,"y":-0.651,"z":-0.280},{"t":74.368,"x":0.6658,"y":-0.274,"z":-0.683},
{"t":74.496,"x":0.6716,"y":-0.426,"z":-0.557},{"t":74.624,"x":0.6833,"y":-0.727,"z":0},{"t":74.752,"x":0.6716,"y":-0.426,"z":0.557},{"t":74.88,"x":0.6658,"y":-0.274,"z":0.683},{"t":75.008,"x":0.6804,"y":-0.651,"z":0.280},{"t":75.136,"x":0.6790,"y":-0.615,"z":-0.340},{"t":75.264,"x":0.6651,"y":-0.256,"z":-0.696},
{"t":75.392,"x":0.6734,"y":-0.471,"z":-0.514},{"t":75.52,"x":0.6831,"y":-0.723,"z":0.066},{"t":75.648,"x":0.6700,"y":-0.383,"z":0.595},{"t":75.776,"x":0.6667,"y":-0.300,"z":0.663},{"t":75.904,"x":0.6815,"y":-0.681,"z":0.218},{"t":76.032,"x":0.6774,"y":-0.575,"z":-0.396},{"t":76.16,"x":0.6647,"y":-0.246,"z":-0.704},
{"t":76.288,"x":0.6751,"y":-0.516,"z":-0.466},{"t":76.416,"x":0.6826,"y":-0.710,"z":0.132},{"t":76.544,"x":0.6685,"y":-0.344,"z":0.628},{"t":76.672,"x":0.6680,"y":-0.332,"z":0.638},
{"t":76.8,"x":0.6824,"y":-0.704,"z":0.154},{"t":76.928,"x":0.6757,"y":-0.531,"z":-0.449},{"t":77.056,"x":0.6646,"y":-0.245,"z":-0.705},{"t":77.184,"x":0.6768,"y":-0.560,"z":-0.414},{"t":77.312,"x":0.6818,"y":-0.690,"z":0.197},{"t":77.44,"x":0.6671,"y":-0.310,"z":0.655},{"t":77.568,"x":0.6694,"y":-0.369,"z":0.607},
{"t":77.696,"x":0.6830,"y":-0.720,"z":0.088},{"t":77.824,"x":0.6740,"y":-0.486,"z":-0.499},{"t":77.952,"x":0.6649,"y":-0.252,"z":-0.699},{"t":78.08,"x":0.6785,"y":-0.602,"z":-0.359},{"t":78.208,"x":0.6808,"y":-0.662,"z":0.260},{"t":78.336,"x":0.6661,"y":-0.282,"z":0.677},{"t":78.464,"x":0.6711,"y":-0.411,"z":0.570},
{"t":78.592,"x":0.6833,"y":-0.727,"z":0.022},{"t":78.72,"x":0.6722,"y":-0.440,"z":-0.543},{"t":78.848,"x":0.6655,"y":-0.267,"z":-0.688},{"t":78.976,"x":0.6799,"y":-0.640,"z":-0.300},{"t":79.104,"x":0.6794,"y":-0.628,"z":0.320},{"t":79.232,"x":0.6653,"y":-0.261,"z":0.693},{"t":79.36,"x":0.6728,"y":-0.455,"z":0.529},
{"t":79.488,"x":0.6832,"y":-0.725,"z":-0.044},{"t":79.616,"x":0.6705,"y":-0.397,"z":-0.583},{"t":79.744,"x":0.6664,"y":-0.290,"z":-0.671},{"t":79.872,"x":0.6812,"y":-0.672,"z":-0.239},{"t":80,"x":0.6779,"y":-0.589,"z":0.378},{"t":80.128,"x":0.6648,"y":-0.248,"z":0.702},{"t":80.256,"x":0.6745,"y":-0.501,"z":0.483},
{"t":80.384,"x":0.6828,"y":-0.715,"z":-0.110},{"t":80.512,"x":0.6689,"y":-0.356,"z":-0.618},{"t":80.64,"x":0.6675,"y":-0.320,"z":-0.647},{"t":80.768,"x":0.6821,"y":-0.697,"z":-0.175},{"t":80.896,"x":0.6763,"y":-0.546,"z":0.432},{"t":81.024,"x":0.6646,"y":-0.244,"z":0.705},{"t":81.152,"x":0.6763,"y":-0.546,"z":0.432},
{"t":81.28,"x":0.6821,"y":-0.697,"z":-0.175},{"t":81.408,"x":0.6675,"y":-0.320,"z":-0.647},{"t":81.536,"x":0.6689,"y":-0.356,"z":-0.618},{"t":81.664,"x":0.6828,"y":-0.715,"z":-0.110},{"t":81.792,"x":0.6745,"y":-0.501,"z":0.483},{"t":81.92,"x":0.6648,"y":-0.248,"z":0.702},{"t":82.048,"x":0.6779,"y":-0.589,"z":0.378},
{"t":82.176,"x":0.6812,"y":-0.672,"z":-0.239},{"t":82.304,"x":0.6664,"y":-0.290,"z":-0.671},{"t":82.432,"x":0.6705,"y":-0.397,"z":-0.583},{"t":82.56,"x":0.6832,"y":-0.725,"z":-0.044},{"t":82.688,"x":0.6728,"y":-0.455,"z":0.529},{"t":82.816,"x":0.6653,"y":-0.261,"z":0.693},{"t":82.944,"x":0.6794,"y":-0.628,"z":0.320},
{"t":83.072,"x":0.6799,"y":-0.640,"z":-0.300},{"t":83.2,"x":0.6655,"y":-0.267,"z":-0.688},{"t":83.328,"x":0.6722,"y":-0.440,"z":-0.543},{"t":83.456,"x":0.6833,"y":-0.727,"z":0.022},{"t":83.584,"x":0.6711,"y":-0.411,"z":0.570},{"t":83.712,"x":0.6661,"y":-0.282,"z":0.677},{"t":83.84,"x":0.6808,"y":-0.662,"z":0.260},
{"t":83.968,"x":0.6785,"y":-0.602,"z":-0.359},{"t":84.096,"x":0.6649,"y":-0.252,"z":-0.699},{"t":84.224,"x":0.6740,"y":-0.486,"z":-0.499},{"t":84.352,"x":0.6830,"y":-0.720,"z":0.088},{"t":84.48,"x":0.6694,"y":-0.369,"z":0.607},{"t":84.608,"x":0.6671,"y":-0.310,"z":0.655},{"t":84.736,"x":0.6818,"y":-0.690,"z":0.197},
{"t":84.864,"x":0.6768,"y":-0.560,"z":-0.414},{"t":84.992,"x":0.6646,"y":-0.245,"z":-0.705},{"t":85.12,"x":0.6757,"y":-0.531,"z":-0.449},{"t":85.248,"x":0.6824,"y":-0.704,"z":0.154},{"t":85.376,"x":0.6680,"y":-0.332,"z":0.638},{"t":85.504,"x":0.6685,"y":-0.344,"z":0.628},{"t":85.632,"x":0.6826,"y":-0.710,"z":0.132},
{"t":85.76,"x":0.6751,"y":-0.516,"z":-0.466},{"t":85.888,"x":0.6647,"y":-0.246,"z":-0.704},{"t":86.016,"x":0.6774,"y":-0.575,"z":-0.396},{"t":86.144,"x":0.6815,"y":-0.681,"z":0.218},{"t":86.272,"x":0.6667,"y":-0.300,"z":0.663},{"t":86.4,"x":0.6700,"y":-0.383,"z":0.595},{"t":86.528,"x":0.6831,"y":-0.723,"z":0.066},
{"t":86.656,"x":0.6734,"y":-0.471,"z":-0.514},{"t":86.784,"x":0.6651,"y":-0.256,"z":-0.696},{"t":86.912,"x":0.6790,"y":-0.615,"z":-0.340},{"t":87.04,"x":0.6804,"y":-0.651,"z":0.280},{"t":87.168,"x":0.6658,"y":-0.274,"z":0.683},{"t":87.296,"x":0.6716,"y":-0.426,"z":0.557},{"t":87.424,"x":0.6833,"y":-0.727,"z":0},
{"t":87.552,"x":0.6716,"y":-0.426,"z":-0.557},{"t":87.68,"x":0.6658,"y":-0.274,"z":-0.683},{"t":87.808,"x":0.6804,"y":-0.651,"z":-0.280},{"t":87.936,"x":0.6790,"y":-0.615,"z":0.340},{"t":88.064,"x":0.6651,"y":-0.256,"z":0.696},{"t":88.192,"x":0.6734,"y":-0.471,"z":0.514},{"t":88.32,"x":0.6831,"y":-0.723,"z":-0.066},
{"t":88.448,"x":0.6700,"y":-0.383,"z":-0.595},{"t":88.576,"x":0.6667,"y":-0.300,"z":-0.663},{"t":88.704,"x":0.6815,"y":-0.681,"z":-0.218},{"t":88.832,"x":0.6774,"y":-0.575,"z":0.396},{"t":88.96,"x":0.6647,"y":-0.246,"z":0.704},{"t":89.088,"x":0.6751,"y":-0.516,"z":0.466},{"t":89.216,"x":0.6826,"y":-0.710,"z":-0.132},
{"t":89.344,"x":0.6685,"y":-0.344,"z":-0.628},{"t":89.472,"x":0.6680,"y":-0.332,"z":-0.638},{"t":89.6,"x":0.6824,"y":-0.704,"z":-0.154},{"t":89.728,"x":0.6757,"y":-0.531,"z":0.449},{"t":89.856,"x":0.6646,"y":-0.245,"z":0.705},{"t":89.984,"x":0.6768,"y":-0.560,"z":0.414},{"t":90.112,"x":0.6818,"y":-0.690,"z":-0.197},
{"t":90.24,"x":0.6671,"y":-0.310,"z":-0.655},{"t":90.368,"x":0.6694,"y":-0.369,"z":-0.607},{"t":90.496,"x":0.6830,"y":-0.720,"z":-0.088},{"t":90.624,"x":0.6740,"y":-0.486,"z":0.499},{"t":90.752,"x":0.6649,"y":-0.252,"z":0.699},{"t":90.88,"x":0.6785,"y":-0.602,"z":0.359},{"t":91.008,"x":0.6808,"y":-0.662,"z":-0.260},
{"t":91.136,"x":0.6661,"y":-0.282,"z":-0.677},{"t":91.264,"x":0.6711,"y":-0.411,"z":-0.570},{"t":91.392,"x":0.6833,"y":-0.727,"z":-0.022},{"t":91.52,"x":0.6722,"y":-0.440,"z":0.543},{"t":91.648,"x":0.6655,"y":-0.267,"z":0.688},{"t":91.776,"x":0.6799,"y":-0.640,"z":0.300},{"t":91.904,"x":0.6794,"y":-0.628,"z":-0.320},
{"t":92.032,"x":0.6653,"y":-0.261,"z":-0.693},{"t":92.16,"x":0.6728,"y":-0.455,"z":-0.529},{"t":92.288,"x":0.6832,"y":-0.725,"z":0.044},{"t":92.416,"x":0.6705,"y":-0.397,"z":0.583},{"t":92.544,"x":0.6664,"y":-0.290,"z":0.671},{"t":92.672,"x":0.6812,"y":-0.672,"z":0.239},{"t":92.8,"x":0.6779,"y":-0.589,"z":-0.378},
{"t":92.928,"x":0.6648,"y":-0.248,"z":-0.702},{"t":93.056,"x":0.6745,"y":-0.501,"z":-0.483},{"t":93.184,"x":0.6828,"y":-0.715,"z":0.110},{"t":93.312,"x":0.6689,"y":-0.356,"z":0.618},{"t":93.44,"x":0.6675,"y":-0.320,"z":0.647},{"t":93.568,"x":0.6821,"y":-0.697,"z":0.175},{"t":93.696,"x":0.6763,"y":-0.546,"z":-0.432},
{"t":93.824,"x":0.6646,"y":-0.244,"z":-0.705},{"t":93.952,"x":0.6763,"y":-0.546,"z":-0.432},{"t":94.08,"x":0.6821,"y":-0.697,"z":0.175},{"t":94.208,"x":0.6675,"y":-0.320,"z":0.647},{"t":94.336,"x":0.6689,"y":-0.356,"z":0.618},{"t":94.464,"x":0.6828,"y":-0.715,"z":0.110},{"t":94.592,"x":0.6745,"y":-0.501,"z":-0.483},
{"t":94.72,"x":0.6648,"y":-0.248,"z":-0.702},{"t":94.848,"x":0.6779,"y":-0.589,"z":-0.378},{"t":94.976,"x":0.6812,"y":-0.672,"z":0.239},{"t":95.104,"x":0.6664,"y":-0.290,"z":0.671},{"t":95.232,"x":0.6705,"y":-0.397,"z":0.583},{"t":95.36,"x":0.6832,"y":-0.725,"z":0.044},{"t":95.488,"x":0.6728,"y":-0.455,"z":-0.529},
{"t":95.616,"x":0.6653,"y":-0.261,"z":-0.693},{"t":95.744,"x":0.6794,"y":-0.628,"z":-0.320},{"t":95.872,"x":0.6799,"y":-0.640,"z":0.300},{"t":96,"x":0.6655,"y":-0.267,"z":0.688},{"t":96.128,"x":0.6722,"y":-0.440,"z":0.543},{"t":96.256,"x":0.6833,"y":-0.727,"z":-0.022},{"t":96.384,"x":0.6711,"y":-0.411,"z":-0.570},
{"t":96.512,"x":0.6661,"y":-0.282,"z":-0.677},{"t":96.64,"x":0.6808,"y":-0.662,"z":-0.260},{"t":96.768,"x":0.6785,"y":-0.602,"z":0.359},{"t":96.896,"x":0.6649,"y":-0.252,"z":0.699},{"t":97.024,"x":0.6740,"y":-0.486,"z":0.499},{"t":97.152,"x":0.6830,"y":-0.720,"z":-0.088},{"t":97.28,"x":0.6694,"y":-0.369,"z":-0.607},
{"t":97.408,"x":0.6671,"y":-0.310,"z":-0.655},{"t":97.536,"x":0.6818,"y":-0.690,"z":-0.197},{"t":97.664,"x":0.6768,"y":-0.560,"z":0.414},{"t":97.792,"x":0.6646,"y":-0.245,"z":0.705},{"t":97.92,"x":0.6757,"y":-0.531,"z":0.449},{"t":98.048,"x":0.6824,"y":-0.704,"z":-0.154},{"t":98.176,"x":0.6680,"y":-0.332,"z":-0.638},
{"t":98.304,"x":0.6685,"y":-0.344,"z":-0.628},{"t":98.432,"x":0.6826,"y":-0.710,"z":-0.132},{"t":98.56,"x":0.6751,"y":-0.516,"z":0.466},{"t":98.688,"x":0.6647,"y":-0.246,"z":0.704},{"t":98.816,"x":0.6774,"y":-0.575,"z":0.396},{"t":98.944,"x":0.6815,"y":-0.681,"z":-0.218},{"t":99.072,"x":0.6667,"y":-0.300,"z":-0.663},
{"t":99.2,"x":0.6700,"y":-0.383,"z":-0.595},{"t":99.328,"x":0.6831,"y":-0.723,"z":-0.066},{"t":99.456,"x":0.6734,"y":-0.471,"z":0.514},{"t":99.584,"x":0.6651,"y":-0.256,"z":0.696},{"t":99.712,"x":0.6790,"y":-0.615,"z":0.340},{"t":99.84,"x":0.6804,"y":-0.651,"z":-0.280},{"t":99.968,"x":0.6658,"y":-0.274,"z":-0.683}
]},
"vconcat":[
{"width":956,"height":348,
 "layer":[
  {"mark":{"type":"circle","size":58,"color":"#000","opacity":1},
   "encoding":{
    "x":{"field":"t","type":"quantitative","scale":{"domain":[0,100],"nice":false,"zero":false},"axis":{"orient":"bottom","values":[0,20,40,60,80,100],"format":"d","title":"t(sec)"}},
    "y":{"field":"x","type":"quantitative","scale":{"domain":[0.66,0.69],"nice":false,"zero":false},"axis":{"orient":"left","values":[0.66,0.67,0.68,0.69],"format":".2f","labelOffset":-27,"title":"Γ1x"}}}},
  {"data":{"values":[{"a":0,"b":0.66}]},
   "mark":{"type":"circle","opacity":0},
   "encoding":{
    "x":{"field":"a","type":"quantitative","scale":{"domain":[0,100],"nice":false,"zero":false},"axis":{"orient":"top","values":[20,40,60,80],"labels":false,"title":null}},
    "y":{"field":"b","type":"quantitative","scale":{"domain":[0.66,0.69],"nice":false,"zero":false},"axis":{"orient":"right","values":[0.67,0.68],"labels":false,"title":null}}}}
 ],
 "resolve":{"scale":{"x":"independent","y":"independent"}}},
{"width":956,"height":348,
 "layer":[
  {"mark":{"type":"circle","size":58,"color":"#000","opacity":1},
   "encoding":{
    "x":{"field":"t","type":"quantitative","scale":{"domain":[0,100],"nice":false,"zero":false},"axis":{"orient":"bottom","values":[0,20,40,60,80,100],"format":"d","title":"t(sec)"}},
    "y":{"field":"y","type":"quantitative","scale":{"domain":[-0.8,-0.2],"nice":false,"zero":false},"axis":{"orient":"left","values":[-0.8,-0.6,-0.4,-0.2],"format":".1f","labelOffset":-23,"title":"Γ1y"}}}},
  {"data":{"values":[{"a":0,"b":-0.8}]},
   "mark":{"type":"circle","opacity":0},
   "encoding":{
    "x":{"field":"a","type":"quantitative","scale":{"domain":[0,100],"nice":false,"zero":false},"axis":{"orient":"top","values":[20,40,60,80],"labels":false,"title":null}},
    "y":{"field":"b","type":"quantitative","scale":{"domain":[-0.8,-0.2],"nice":false,"zero":false},"axis":{"orient":"right","values":[-0.6,-0.4],"labels":false,"title":null}}}}
 ],
 "resolve":{"scale":{"x":"independent","y":"independent"}}},
{"width":956,"height":348,
 "layer":[
  {"mark":{"type":"circle","size":58,"color":"#000","opacity":1},
   "encoding":{
    "x":{"field":"t","type":"quantitative","scale":{"domain":[0,100],"nice":false,"zero":false},"axis":{"orient":"bottom","values":[0,20,40,60,80,100],"format":"d","title":"t(sec)","titlePadding":34}},
    "y":{"field":"z","type":"quantitative","scale":{"domain":[-1,1],"nice":false,"zero":false},"axis":{"orient":"left","values":[-1,0,1],"format":".0f","labelExpr":"datum.value == 0 ? '0' : datum.label","labelOverlap":false,"labelOffset":-26,"title":"Γ1z"}}}},
  {"data":{"values":[{"a":0,"b":0}]},
   "mark":{"type":"circle","opacity":0},
   "encoding":{
    "x":{"field":"a","type":"quantitative","scale":{"domain":[0,100],"nice":false,"zero":false},"axis":{"orient":"top","values":[20,40,60,80],"labels":false,"title":null}},
    "y":{"field":"b","type":"quantitative","scale":{"domain":[-1,1],"nice":false,"zero":false},"axis":{"orient":"right","values":[0],"labels":false,"title":null}}}}
 ],
 "resolve":{"scale":{"x":"independent","y":"independent"}}}
],
"config":{
 "view":{"stroke":"#222","strokeWidth":2.5},
 "axis":{"domain":false,"grid":false,"tickColor":"#222","tickWidth":2.2,"tickSize":-11,"labelFont":"Liberation Serif","labelColor":"#111","titleFont":"Liberation Serif","titleFontWeight":"normal","titleColor":"#111","labelFlush":false,"labelOverlap":false},
 "axisBottom":{"labelFontSize":41,"labelPadding":11,"titleFontSize":47,"titlePadding":13},
 "axisLeft":{"labelFontSize":43,"labelPadding":29,"titleFontSize":52,"titlePadding":31},
 "locale":{"number":{"decimal":".","thousands":",","grouping":[3],"currency":["$",""],"minus":"-"}}
}
}
